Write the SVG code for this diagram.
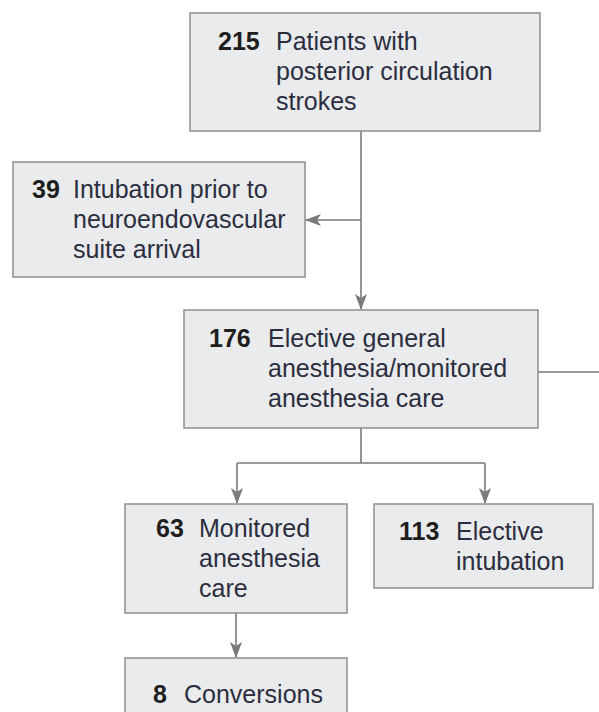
<svg xmlns="http://www.w3.org/2000/svg" width="599" height="712" viewBox="0 0 599 712">
<defs>
<style>
.box{fill:#e9ebec;stroke:#8e8e8e;stroke-width:1.5}
.t{font-family:"Liberation Sans",Arial,sans-serif;font-size:25px;fill:#2c2e40}
.n{font-family:"Liberation Sans",Arial,sans-serif;font-size:25px;font-weight:bold;fill:#1e1e1e}
.c{fill:none;stroke:#7a7a7a;stroke-width:1.6}
</style>
<marker id="ah" viewBox="0 0 16 12" refX="15" refY="6" markerWidth="16" markerHeight="12" markerUnits="userSpaceOnUse" orient="auto">
<path d="M0,0 L16,6 L0,12 L4,6 Z" fill="#7a7a7a"/>
</marker>
</defs>
<rect width="599" height="712" fill="#ffffff"/>
<g id="connectors">
<path class="c" d="M361,131 V309" marker-end="url(#ah)"/>
<path class="c" d="M361,220 H306" marker-end="url(#ah)"/>
<path class="c" d="M538,372 H599"/>
<path class="c" d="M361,428 V463 M237,463 H485"/>
<path class="c" d="M237,463 V503" marker-end="url(#ah)"/>
<path class="c" d="M485,463 V503" marker-end="url(#ah)"/>
<path class="c" d="M236,613 V657" marker-end="url(#ah)"/>
</g>
<g id="n215">
<rect class="box" x="190" y="13" width="350" height="118"/>
<text class="n" x="218" y="50">215</text>
<text class="t" x="276" y="50">Patients with</text>
<text class="t" x="276" y="80">posterior circulation</text>
<text class="t" x="276" y="110">strokes</text>
</g>
<g id="n39">
<rect class="box" x="13" y="162" width="292" height="115"/>
<text class="n" x="32" y="198">39</text>
<text class="t" x="73" y="198">Intubation prior to</text>
<text class="t" x="73" y="228">neuroendovascular</text>
<text class="t" x="73" y="258">suite arrival</text>
</g>
<g id="n176">
<rect class="box" x="184" y="310" width="354" height="118"/>
<text class="n" x="209" y="347">176</text>
<text class="t" x="268" y="347">Elective general</text>
<text class="t" x="268" y="377">anesthesia/monitored</text>
<text class="t" x="268" y="407">anesthesia care</text>
</g>
<g id="n63">
<rect class="box" x="125" y="504" width="222" height="109"/>
<text class="n" x="156" y="537">63</text>
<text class="t" x="199" y="537">Monitored</text>
<text class="t" x="199" y="567">anesthesia</text>
<text class="t" x="199" y="597">care</text>
</g>
<g id="n113">
<rect class="box" x="374" y="504" width="219" height="84"/>
<text class="n" x="399" y="540">113</text>
<text class="t" x="456" y="540">Elective</text>
<text class="t" x="456" y="570">intubation</text>
</g>
<g id="n8">
<rect class="box" x="125" y="658" width="222" height="70"/>
<text class="n" x="153" y="703">8</text>
<text class="t" x="184" y="703">Conversions</text>
</g>
</svg>
